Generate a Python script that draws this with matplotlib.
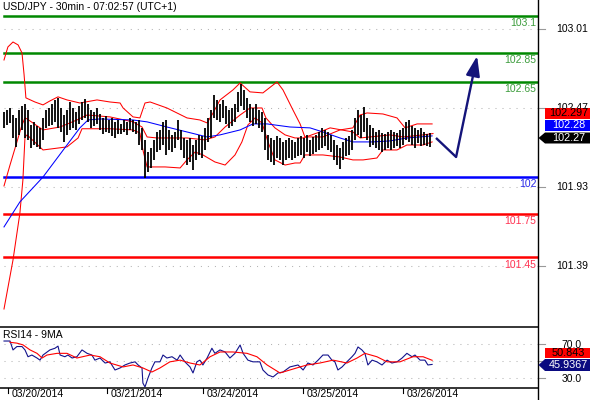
import matplotlib
matplotlib.use("Agg")
import matplotlib.pyplot as plt
import matplotlib.transforms as mtrans
from matplotlib.patches import Polygon, FancyArrowPatch
from matplotlib.lines import Line2D
import numpy as np

plt.rcParams['font.family'] = ['Liberation Sans', 'DejaVu Sans']
plt.rcParams['lines.scale_dashes'] = False

# ---------------- data ----------------
title = "USD/JPY - 30min - 07:02:57 (UTC+1)"
rsi_title = "RSI14 - 9MA"

high = [102.445, 102.459, 102.472, 102.424, 102.404, 102.459, 102.486, 102.500, 102.459, 102.356,
        102.377, 102.349, 102.336, 102.404, 102.459, 102.472, 102.500, 102.527, 102.541, 102.472,
        102.424, 102.459, 102.513, 102.472, 102.445, 102.486, 102.513, 102.534, 102.500, 102.459,
        102.445, 102.472, 102.431, 102.404, 102.418, 102.390, 102.404, 102.377, 102.390, 102.363,
        102.390, 102.377, 102.404, 102.390, 102.377, 102.390, 102.336, 102.254, 102.171, 102.199,
        102.254, 102.308, 102.322, 102.377, 102.390, 102.322, 102.288, 102.308, 102.390, 102.322,
        102.267, 102.254, 102.267, 102.219, 102.254, 102.288, 102.281, 102.336, 102.404, 102.459,
        102.561, 102.527, 102.500, 102.527, 102.486, 102.459, 102.472, 102.500, 102.582, 102.636,
        102.595, 102.541, 102.500, 102.472, 102.500, 102.459, 102.445, 102.404, 102.288, 102.267,
        102.254, 102.281, 102.267, 102.240, 102.254, 102.267, 102.254, 102.240, 102.267, 102.281,
        102.267, 102.288, 102.254, 102.274, 102.288, 102.308, 102.336, 102.322, 102.308, 102.288,
        102.254, 102.219, 102.199, 102.240, 102.267, 102.281, 102.322, 102.404, 102.459, 102.424,
        102.479, 102.404, 102.356, 102.336, 102.308, 102.322, 102.301, 102.295, 102.308, 102.322,
        102.308, 102.301, 102.322, 102.336, 102.377, 102.390, 102.349, 102.336, 102.322, 102.336,
        102.308, 102.295, 102.301]
low = [102.336, 102.356, 102.370, 102.267, 102.206, 102.288, 102.322, 102.267, 102.254, 102.199,
       102.219, 102.206, 102.192, 102.254, 102.336, 102.349, 102.356, 102.377, 102.336, 102.308,
       102.240, 102.288, 102.322, 102.336, 102.322, 102.363, 102.390, 102.404, 102.377, 102.336,
       102.349, 102.363, 102.322, 102.295, 102.308, 102.301, 102.281, 102.267, 102.295, 102.295,
       102.308, 102.288, 102.322, 102.308, 102.295, 102.219, 102.185, 101.993, 102.034, 102.062,
       102.117, 102.171, 102.185, 102.219, 102.151, 102.185, 102.171, 102.199, 102.254, 102.185,
       102.130, 102.082, 102.103, 102.048, 102.117, 102.151, 102.130, 102.185, 102.240, 102.267,
       102.404, 102.390, 102.377, 102.404, 102.363, 102.336, 102.349, 102.377, 102.445, 102.486,
       102.459, 102.404, 102.377, 102.349, 102.363, 102.336, 102.308, 102.185, 102.117, 102.103,
       102.082, 102.130, 102.117, 102.082, 102.117, 102.130, 102.117, 102.130, 102.144, 102.151,
       102.130, 102.171, 102.144, 102.158, 102.171, 102.185, 102.199, 102.212, 102.185, 102.171,
       102.117, 102.082, 102.055, 102.117, 102.144, 102.151, 102.185, 102.254, 102.288, 102.267,
       102.308, 102.254, 102.206, 102.219, 102.199, 102.185, 102.171, 102.185, 102.199, 102.185,
       102.199, 102.212, 102.199, 102.219, 102.254, 102.240, 102.219, 102.199, 102.233, 102.212,
       102.219, 102.212, 102.206]

upper_t = [0, 1.3, 3, 4.7, 6, 6.7, 7.3, 10.3, 13, 15.3, 18, 21, 25.3, 31, 35.3, 38.7, 39.7, 43,
           45.3, 47, 48.7, 54.3, 61, 65.3, 67.7, 69.7, 72, 76.3, 78.7, 82, 86.3, 91, 93, 96.3,
           98.7, 100.3, 106.3, 112, 116.3, 118.7, 121, 126.3, 131, 133.7, 137.7, 142.7]
upper = [102.800, 102.889, 102.923, 102.903, 102.848, 102.698, 102.541, 102.513, 102.493, 102.520,
         102.548, 102.527, 102.506, 102.527, 102.513, 102.506, 102.472, 102.411, 102.404, 102.506,
         102.513, 102.472, 102.404, 102.390, 102.370, 102.438, 102.527, 102.595, 102.643, 102.582,
         102.575, 102.650, 102.595, 102.459, 102.363, 102.274, 102.274, 102.322, 102.336, 102.424,
         102.438, 102.431, 102.404, 102.336, 102.363, 102.363]

middle_t = [0, 2, 4, 6, 7, 7.7, 13, 18.7, 24.3, 27.7, 35.3, 43, 46, 47.7, 51, 56.3, 61, 67, 70.3,
            73.7, 78.7, 82, 86, 87.3, 90.3, 93.7, 97, 99.7, 105.3, 108.7, 116.3, 118.7, 122,
            128.7, 133, 139.7, 143]
middle = [101.939, 102.082, 102.219, 102.356, 102.404, 102.397, 102.322, 102.342, 102.390, 102.424,
          102.411, 102.377, 102.342, 102.274, 102.267, 102.267, 102.267, 102.254, 102.274, 102.342,
          102.424, 102.472, 102.472, 102.404, 102.336, 102.288, 102.267, 102.267, 102.308, 102.336,
          102.308, 102.267, 102.274, 102.288, 102.274, 102.288, 102.297]

lower_t = [0, 3, 5.3, 6.3, 7, 7.7, 13, 21, 24.7, 26, 35.3, 43, 45.3, 46.3, 47.7, 53.7, 58.7, 61,
           63.7, 66.3, 70.3, 73.7, 77, 79.3, 81.3, 83.7, 86, 88, 90.3, 93.7, 97, 98.7, 100.3,
           106.3, 112, 116.3, 119.7, 124.3, 126.3, 131, 134.3, 139.7, 142.7]
lower = [101.098, 101.433, 101.754, 101.980, 102.274, 102.288, 102.185, 102.206, 102.267, 102.330,
         102.330, 102.322, 102.301, 102.185, 102.069, 102.069, 102.062, 102.117, 102.171, 102.151,
         102.103, 102.082, 102.151, 102.240, 102.356, 102.404, 102.370, 102.240, 102.117, 102.082,
         102.096, 102.096, 102.151, 102.151, 102.137, 102.117, 102.117, 102.130, 102.185, 102.185,
         102.219, 102.219, 102.240]

ma_t = [0, 5.3, 13, 21, 25.3, 28, 32, 43, 47.7, 54.3, 61, 67.7, 72, 78.7, 83, 87.7, 95.3, 102,
        106.3, 112, 116.3, 123, 128.7, 134.3, 142.7]
ma = [101.659, 101.830, 102.000, 102.219, 102.336, 102.390, 102.397, 102.390, 102.377, 102.342,
      102.308, 102.274, 102.288, 102.322, 102.363, 102.363, 102.342, 102.336, 102.308, 102.267,
      102.240, 102.240, 102.247, 102.267, 102.281]

green_levels = [103.1, 102.85, 102.65]
green_labels = ["103.1", "102.85", "102.65"]
blue_levels = [102.0]
blue_labels = ["102"]
red_levels = [101.75, 101.45]
red_labels = ["101.75", "101.45"]

price_ticks = [103.01, 102.47, 101.93, 101.39]
price_tick_labels = ["103.01", "102.47", "101.93", "101.39"]

forecast_t = [144, 150.7, 157.7]
forecast_p = [102.267, 102.137, 102.827]

last_labels = ["102.297", "102.28", "102.27"]

rsi_t = [0, 2, 3, 4.3, 6, 7, 8, 9.3, 11, 12, 13, 15.3, 17, 18, 18.7, 20.3, 21.3, 22.7, 24.3, 26,
         27.7, 29.3, 30.3, 32, 33.7, 35.3, 37, 38.7, 40.3, 42, 43.7, 44.7, 46, 46.3, 47, 48, 49.3,
         50.3, 52, 53, 54.3, 56, 57.7, 58.7, 60.3, 62, 63, 64.3, 65.3, 66.3, 67.7, 69.3, 70.3, 72,
         73.7, 75.3, 77, 78.7, 79.7, 81.3, 83, 85.3, 86.3, 88, 89.7, 91.3, 93, 95.3, 98, 98.7,
         99.7, 101.3, 103, 104.7, 106.3, 108, 109.3, 110.3, 111.3, 112.7, 114.3, 116, 117, 118,
         119.3, 120.3, 121.3, 122.7, 124.3, 126, 127.7, 129.3, 131, 132.7, 134.3, 136, 137, 138.7,
         140.3, 141.3, 142.7]
rsi = [73.5, 73.5, 63, 67, 67, 63, 55, 57, 53.5, 51, 57, 63, 65, 67.5, 57, 55, 57, 53.5, 55, 63,
       59, 57, 51, 53.5, 47.6, 49, 39.4, 41.8, 45.3, 47.6, 49, 45.3, 41.8, 24, 19.4, 30, 41.8,
       49, 49, 57, 53.5, 55, 51, 57, 49, 43, 35.9, 49, 51, 45.3, 53.5, 65, 59, 63, 60.6, 53.5,
       59, 68.8, 59, 51, 49, 49, 39.4, 33.5, 31.2, 35.9, 37, 43, 45.3, 43, 39.4, 47.6, 45.3, 51,
       57, 57, 51, 49, 39.4, 43, 49, 55, 59, 66.5, 63, 59, 45.3, 51, 49, 45.3, 51, 47.6, 49,
       53.5, 59, 55, 57, 51, 51, 45.3, 45.94]
rsi_ma_t = [2, 4.3, 6.3, 8.7, 11, 12.7, 14.3, 17.7, 21, 24.3, 28.7, 32, 35.3, 39.7, 43, 46.3, 49.3,
            52, 55.3, 58.7, 62, 65.3, 68.7, 72, 76.3, 81, 84.3, 87.7, 92, 95.3, 98.7, 101, 105.3,
            109.7, 114.3, 117.7, 120.3, 124.3, 127.7, 132, 136.3, 139.7, 142.7]
rsi_ma = [72, 71, 69, 63, 59, 53.5, 57, 59, 59, 53.5, 57, 55, 47.6, 43, 45.3, 41.8, 37, 41.8, 49,
          51, 47.6, 45.3, 55, 60.6, 60.6, 59, 55, 45.3, 35.9, 39.4, 43, 45.3, 47.6, 51, 47.6,
          53.5, 59, 55, 49, 49, 55, 55, 50.84]
rsi_ticks = [70, 50, 30]
rsi_tick_labels = {70: "70.0", 30: "30.0"}
rsi_last_labels = ["50.843", "45.9367"]

date_pos = [1.3, 34.3, 66.3, 99.7, 133.0]
date_labels = ["03/20/2014", "03/21/2014", "03/24/2014", "03/25/2014", "03/26/2014"]

# ---------------- layout ----------------
W, H = 590.0, 400.0
FS = 7.5
fig = plt.figure(figsize=(5.9, 4.0), dpi=100)
fig.patch.set_facecolor('white')

def fx(px):
    return px / W

def fy(py):
    return 1 - py / H

X_RIGHT = 538.0
Y_SEP = 326.7
Y_BOT = 388.0

ax = fig.add_axes([0, fy(Y_SEP), fx(X_RIGHT), Y_SEP / H])
ax2 = fig.add_axes([0, fy(Y_BOT), fx(X_RIGHT), (Y_BOT - Y_SEP) / H])
for a in (ax, ax2):
    a.set_xlim(-1.333, 178)
    a.axis('off')
ax.set_ylim(100.977, 103.210)
ax2.set_ylim(18.2, 90.35)

grid_kw = dict(color='#b4b4b4', lw=0.75, ls=(0, (0.75, 4.3)))
x0 = 4 / X_RIGHT
for v in price_ticks:
    ax.axhline(v, xmin=x0, xmax=1, zorder=1, **grid_kw)
for v in rsi_ticks:
    ax2.axhline(v, xmin=x0, xmax=1, zorder=1, **grid_kw)

# levels
lvl_tr = mtrans.blended_transform_factory(ax.transAxes, ax.transData)
for levels, labels, lc, tc in [(green_levels, green_labels, '#008800', '#3c9c3c'),
                               (blue_levels, blue_labels, '#0000ff', '#2828e8'),
                               (red_levels, red_labels, '#ff0000', '#ff3050')]:
    for v, lab in zip(levels, labels):
        ax.axhline(v, xmin=x0, xmax=1, color=lc, lw=1.8, zorder=2)
        ax.annotate(lab, xy=(1 - 1.5 / X_RIGHT, v), xycoords=lvl_tr,
                    xytext=(0, -5.2), textcoords='offset points',
                    ha='right', va='center', fontsize=FS, color=tc)

# bands and MA
ax.plot(upper_t, upper, color='#ff0000', lw=0.75, zorder=3)
ax.plot(middle_t, middle, color='#ff0000', lw=0.75, zorder=3)
ax.plot(lower_t, lower, color='#ff0000', lw=0.75, zorder=3)
ax.plot(ma_t, ma, color='#0000ff', lw=0.75, zorder=3)

# price bars
t = np.arange(len(high))
ax.vlines(t, low, high, color='black', lw=1.3, zorder=4)

# forecast arrow
navy = '#14147a'
ax.plot(forecast_t[:2], forecast_p[:2], color=navy, lw=1.7, zorder=5, solid_capstyle='butt')
arr = FancyArrowPatch((forecast_t[1], forecast_p[1]), (forecast_t[2], forecast_p[2]),
                      arrowstyle='-|>,head_length=1.2,head_width=0.42', mutation_scale=10,
                      color=navy, lw=1.7, shrinkA=0, shrinkB=0, zorder=5)
ax.add_patch(arr)

# right axis tick marks and labels
for v, lab in zip(price_ticks, price_tick_labels):
    ax.plot([1, 1 + 7 / X_RIGHT], [v, v], transform=lvl_tr, color='#999999', lw=0.8, clip_on=False)
    ax.text(572 / X_RIGHT, v, lab, transform=lvl_tr, ha='center', va='center', fontsize=FS,
            color='black', clip_on=False, zorder=1)
rsi_tr = mtrans.blended_transform_factory(ax2.transAxes, ax2.transData)
for v in rsi_ticks:
    ax2.plot([1, 1 + 7 / X_RIGHT], [v, v], transform=rsi_tr, color='#999999', lw=0.8, clip_on=False)
    if v in rsi_tick_labels:
        ax2.text(572 / X_RIGHT, v, rsi_tick_labels[v], transform=rsi_tr, ha='center',
                 va='center_baseline', fontsize=FS, color='black', clip_on=False, zorder=1)

# RSI
ax2.plot(rsi_t, rsi, color='#12128c', lw=0.8, zorder=3)
ax2.plot(rsi_ma_t, rsi_ma, color='#ff0000', lw=0.8, zorder=3)

# titles
fig.text(fx(3), fy(7.5), title, fontsize=FS, ha='left', va='center', color='black')
fig.text(fx(3), fy(335), rsi_title, fontsize=FS, ha='left', va='center', color='black')

# frame lines
fig.add_artist(Line2D([fx(X_RIGHT), fx(X_RIGHT)], [0, 1], color='black', lw=1.0, zorder=6))
fig.add_artist(Line2D([0, fx(X_RIGHT)], [fy(Y_SEP), fy(Y_SEP)], color='black', lw=1.1, zorder=6))
fig.add_artist(Line2D([0, fx(X_RIGHT)], [fy(Y_BOT), fy(Y_BOT)], color='black', lw=1.1, zorder=6))

# dates
date_tr = mtrans.blended_transform_factory(ax2.transData, fig.transFigure)
for p, lab in zip(date_pos, date_labels):
    ax2.plot([p, p], [fy(Y_BOT), fy(Y_BOT + 5)], transform=date_tr, color='black', lw=0.8,
             clip_on=False)
    ax2.annotate(lab, xy=(p, fy(394)), xycoords=date_tr, xytext=(2.8, 0),
                 textcoords='offset points', ha='left', va='center', fontsize=FS)

# value boxes on right
def box(y0, y1, face, text, tcolor, arrow=False, x0=545.0):
    if arrow:
        pts = [(538.5, (y0 + y1) / 2), (x0, y0), (W, y0), (W, y1), (x0, y1)]
    else:
        pts = [(x0, y0), (W, y0), (W, y1), (x0, y1)]
    poly = Polygon([(fx(a), fy(b)) for a, b in pts], closed=True, transform=fig.transFigure,
                   facecolor=face, edgecolor='none', zorder=7)
    fig.add_artist(poly)
    fig.text(fx(568.5), fy((y0 + y1) / 2), text, ha='center', va='center', fontsize=7.8,
             color=tcolor, zorder=8)

box(107.5, 118.5, '#ff0000', last_labels[0], 'black')
box(119.5, 131, '#0000ff', last_labels[1], 'white')
box(132.5, 143.5, '#000000', last_labels[2], 'white', arrow=True)
box(347.5, 358, '#ff0000', rsi_last_labels[0], 'black')
box(359, 371, '#0a0a80', rsi_last_labels[1], 'white', arrow=True)

fig.savefig('out.png', dpi=100, facecolor='white')
